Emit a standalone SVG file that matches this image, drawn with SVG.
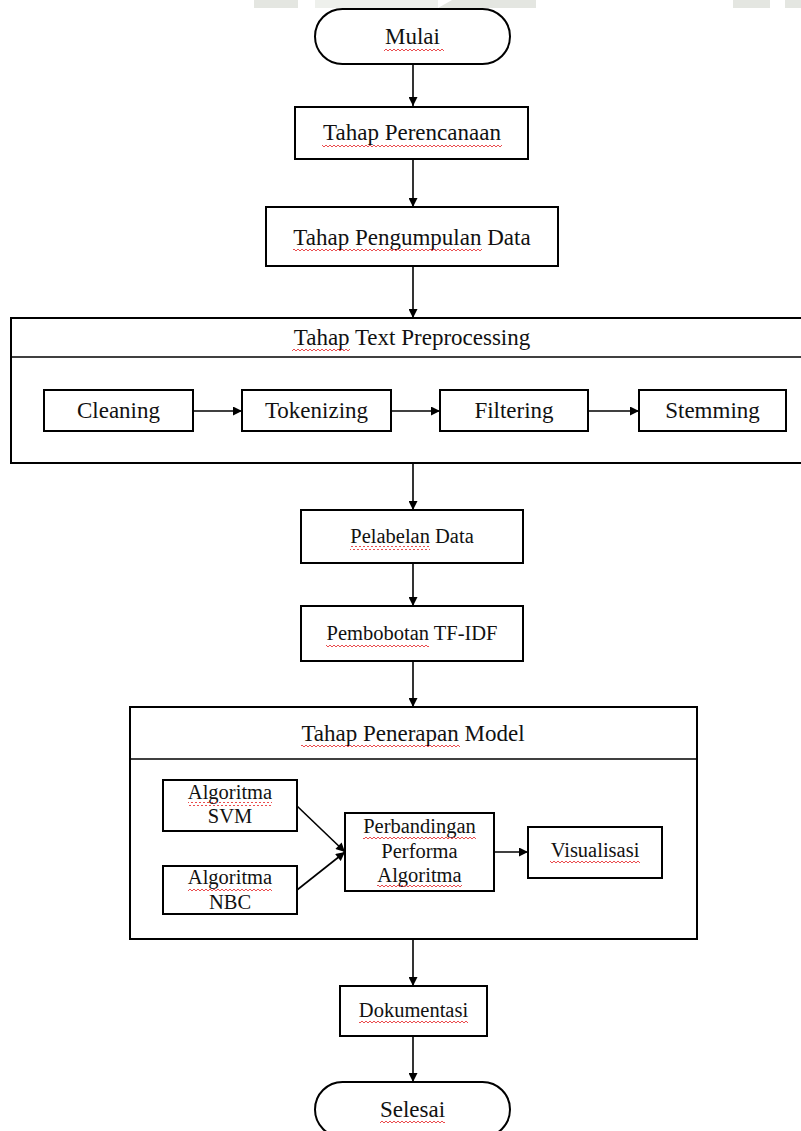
<svg xmlns="http://www.w3.org/2000/svg" width="801" height="1131" viewBox="0 0 801 1131">
<defs>
<style>
.box{fill:#fff;stroke:#000;stroke-width:2}
.cont{fill:none;stroke:#000;stroke-width:2}
.ln{fill:none;stroke:#000;stroke-width:1.6}
.t{font-family:"Liberation Serif","Times New Roman",serif;fill:#111;text-anchor:middle}
.big{font-size:23px}
.sm{font-size:20.5px}
.sq{fill:url(#wave)}
.wm{fill:#e4e6e1}
</style>
<pattern id="wave" x="0" y="0" width="4" height="4" patternUnits="userSpaceOnUse">
<path d="M0,3 L2,1 L4,3" fill="none" stroke="#e8383a" stroke-width="0.9"/>
</pattern>
<marker id="arr" viewBox="0 0 10 10" refX="10" refY="5" markerWidth="10" markerHeight="9" orient="auto" markerUnits="userSpaceOnUse">
<path d="M0,0 L10,5 L0,10 z" fill="#000"/>
</marker>
</defs>
<rect width="801" height="1131" fill="#fff"/>
<g id="watermark">
<rect class="wm" x="254" y="0" width="44" height="8"/>
<rect x="315" y="0" width="123" height="8" fill="#eef0ec"/>
<polygon class="wm" points="452,0 536,0 536,8 438,8"/>
<rect class="wm" x="733" y="0" width="37" height="8"/>
<rect class="wm" x="785" y="0" width="16" height="8"/>
</g>
<g id="preprocessing">
<rect class="cont" x="11" y="318" width="800" height="145"/>
<line class="ln" x1="11" y1="357" x2="801" y2="357" stroke-width="2"/>
<text class="t big" x="412" y="345">Tahap Text Preprocessing</text>
<rect class="sq" x="292" y="348" width="58" height="4"/>
</g>
<g id="penerapan">
<rect class="cont" x="130" y="707" width="567" height="232"/>
<line class="ln" x1="130" y1="759" x2="697" y2="759" stroke-width="2"/>
<text class="t big" x="413" y="741">Tahap Penerapan Model</text>
<rect class="sq" x="301" y="744" width="159" height="4"/>
</g>
<g id="connectors">
<line class="ln" x1="413" y1="64" x2="413" y2="106" marker-end="url(#arr)"/>
<line class="ln" x1="413" y1="159" x2="413" y2="207" marker-end="url(#arr)"/>
<line class="ln" x1="413" y1="266" x2="413" y2="318" marker-end="url(#arr)"/>
<line class="ln" x1="193" y1="411" x2="242" y2="411" marker-end="url(#arr)"/>
<line class="ln" x1="391" y1="411" x2="440" y2="411" marker-end="url(#arr)"/>
<line class="ln" x1="588" y1="411" x2="639" y2="411" marker-end="url(#arr)"/>
<line class="ln" x1="413" y1="463" x2="413" y2="510" marker-end="url(#arr)"/>
<line class="ln" x1="413" y1="563" x2="413" y2="606" marker-end="url(#arr)"/>
<line class="ln" x1="413" y1="661" x2="413" y2="707" marker-end="url(#arr)"/>
<line class="ln" x1="297" y1="806" x2="345" y2="852" marker-end="url(#arr)"/>
<line class="ln" x1="297" y1="890" x2="345" y2="852" marker-end="url(#arr)"/>
<line class="ln" x1="494" y1="852" x2="528" y2="852" marker-end="url(#arr)"/>
<line class="ln" x1="413" y1="939" x2="413" y2="986" marker-end="url(#arr)"/>
<line class="ln" x1="413" y1="1036" x2="413" y2="1082" marker-end="url(#arr)"/>
</g>
<g id="mulai">
<rect class="box" x="315" y="9" width="195" height="55" rx="27.5"/>
<text class="t big" x="412.5" y="44">Mulai</text>
<rect class="sq" x="384" y="47" width="60" height="4"/>
</g>
<g id="perencanaan">
<rect class="box" x="295" y="107" width="233" height="52"/>
<text class="t big" x="412" y="140">Tahap Perencanaan</text>
<rect class="sq" x="322" y="143" width="180" height="4"/>
</g>
<g id="pengumpulan">
<rect class="box" x="266" y="207" width="292" height="59"/>
<text class="t big" x="412" y="245">Tahap Pengumpulan Data</text>
<rect class="sq" x="293" y="248" width="189" height="4"/>
</g>
<g id="cleaning">
<rect class="box" x="44" y="390" width="149" height="41"/>
<text class="t big" x="118.5" y="418">Cleaning</text>
</g>
<g id="tokenizing">
<rect class="box" x="242" y="390" width="149" height="41"/>
<text class="t big" x="316.5" y="418">Tokenizing</text>
</g>
<g id="filtering">
<rect class="box" x="440" y="390" width="148" height="41"/>
<text class="t big" x="514" y="418">Filtering</text>
</g>
<g id="stemming">
<rect class="box" x="639" y="390" width="147" height="41"/>
<text class="t big" x="712.5" y="418">Stemming</text>
</g>
<g id="pelabelan">
<rect class="box" x="301" y="510" width="222" height="53"/>
<text class="t sm" x="412" y="543">Pelabelan Data</text>
<rect class="sq" x="350" y="546" width="80" height="4"/>
</g>
<g id="pembobotan">
<rect class="box" x="301" y="606" width="222" height="55"/>
<text class="t sm" x="412" y="640">Pembobotan TF-IDF</text>
<rect class="sq" x="326" y="643" width="103" height="4"/>
</g>
<g id="svm">
<rect class="box" x="163" y="780" width="134" height="51"/>
<text class="t sm" x="230" y="799">Algoritma</text>
<text class="t sm" x="230" y="823">SVM</text>
<rect class="sq" x="188" y="802" width="84" height="4"/>
</g>
<g id="nbc">
<rect class="box" x="163" y="866" width="134" height="48"/>
<text class="t sm" x="230" y="884">Algoritma</text>
<text class="t sm" x="230" y="909">NBC</text>
<rect class="sq" x="188" y="887" width="84" height="4"/>
</g>
<g id="perbandingan">
<rect class="box" x="345" y="813" width="149" height="78"/>
<text class="t sm" x="419.5" y="833">Perbandingan</text>
<text class="t sm" x="419.5" y="858">Performa</text>
<text class="t sm" x="419.5" y="882">Algoritma</text>
<rect class="sq" x="363" y="836" width="113" height="4"/>
<rect class="sq" x="377" y="885" width="85" height="4"/>
</g>
<g id="visualisasi">
<rect class="box" x="528" y="827" width="134" height="51"/>
<text class="t sm" x="595" y="857">Visualisasi</text>
<rect class="sq" x="550" y="860" width="90" height="4"/>
</g>
<g id="dokumentasi">
<rect class="box" x="340" y="986" width="147" height="50"/>
<text class="t sm" x="413.5" y="1017">Dokumentasi</text>
<rect class="sq" x="359" y="1020" width="109" height="4"/>
</g>
<g id="selesai">
<rect class="box" x="315" y="1082" width="195" height="55" rx="27.5"/>
<text class="t big" x="412.5" y="1117">Selesai</text>
<rect class="sq" x="380" y="1120" width="65" height="4"/>
</g>
</svg>
